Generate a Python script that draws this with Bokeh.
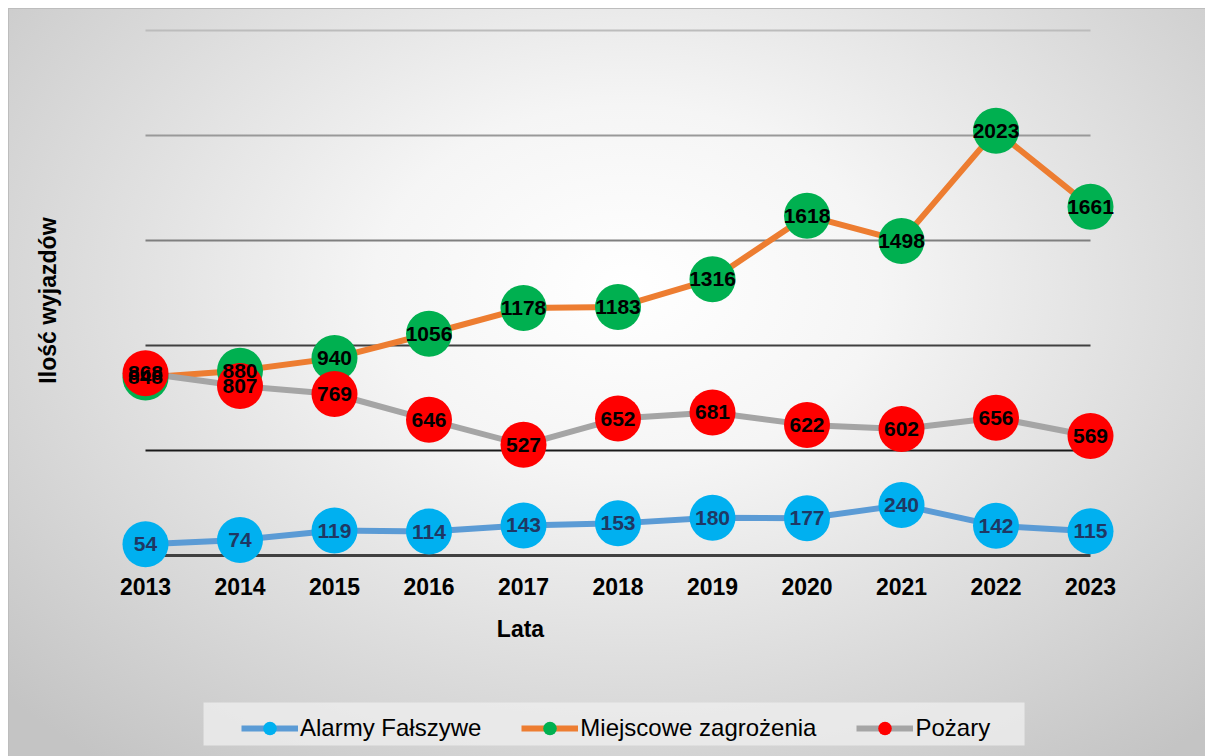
import math
from bokeh.plotting import figure
from bokeh.models import Legend, LegendItem, BoxAnnotation, ColumnDataSource
from bokeh.core.properties import value
from bokeh.embed import file_html
from bokeh.resources import INLINE

# ---- data ----
years = [2013, 2014, 2015, 2016, 2017, 2018, 2019, 2020, 2021, 2022, 2023]
year_labels = ["2013", "2014", "2015", "2016", "2017", "2018", "2019", "2020", "2021", "2022", "2023"]
alarmy = [54, 74, 119, 114, 143, 153, 180, 177, 240, 142, 115]
miejscowe = [848, 880, 940, 1056, 1178, 1183, 1316, 1618, 1498, 2023, 1661]
pozary = [868, 807, 769, 646, 527, 652, 681, 622, 602, 656, 569]
series_names = ["Alarmy Fałszywe", "Miejscowe zagrożenia", "Pożary"]
grid_values = [0, 500, 1000, 1500, 2000, 2500]
x_title = "Lata"
y_title = "Ilość wyjazdów"

# ---- styles ----
FONT = value("Liberation Sans")
line_colors = ["#5b9bd5", "#ed7d31", "#a5a5a5"]
marker_colors = ["#00b0f0", "#00b050", "#ff0000"]
label_colors = ["#1f3864", "#000000", "#000000"]
grid_colors = ["#404040", "#1a1a1a", "#404040", "#7f7f7f", "#999999", "#bcbcbc"]
grid_widths = [3, 2, 2, 2, 2, 2]

# frame covers the whole figure; 94.5 px per year, 0.21 px per unit
p = figure(width=1205, height=756,
           x_range=(2011.4656, 2024.2169), y_range=(-957.14, 2642.86),
           output_backend="svg", toolbar_location=None,
           x_axis_location=None, y_axis_location=None,
           min_border=0)
p.border_fill_color = None
p.background_fill_color = None
p.outline_line_color = None
p.grid.visible = False
p.styles = {
    "background": "radial-gradient(ellipse 70% 80% at 52% 38%, #ffffff 0%, #f5f5f5 30%, #c4c4c4 100%)",
    "box-shadow": "inset 8px 8px 0 0 #ffffff, inset 9px 9px 0 0 #bdbdbd",
}

# gridlines (only across the category span)
for g, c, w in zip(grid_values, grid_colors, grid_widths):
    p.segment(x0=years[0], x1=years[-1], y0=g, y1=g, line_color=c, line_width=w)

series = [alarmy, miejscowe, pozary]
line_rs = []
for vals, lc in zip(series, line_colors):
    line_rs.append(p.line(years, vals, line_color=lc, line_width=6, line_join="round"))
marker_rs = []
for vals, mc in zip(series, marker_colors):
    marker_rs.append(p.scatter(years, vals, size=46, fill_color=mc, line_color=None))
for vals, tc in zip(series, label_colors):
    src = ColumnDataSource(dict(x=years, y=vals, t=[str(v) for v in vals]))
    p.text(x="x", y="y", text="t", source=src, text_align="center", text_baseline="middle",
           text_font=FONT, text_font_style="bold", text_font_size="21px", text_color=tc)

# x tick labels
p.text(x=years, y=[-147.6] * len(years), text=year_labels, text_align="center",
       text_baseline="middle", text_font=FONT, text_font_style="bold",
       text_font_size="23px", text_color="#000000")

# axis titles
p.text(x=[2016.968], y=[-352], text=[x_title], text_align="center", text_baseline="middle",
       text_font=FONT, text_font_style="bold", text_font_size="23px", text_color="#000000")
p.text(x=[2011.963], y=[1214], text=[y_title], angle=math.pi / 2, text_align="center",
       text_baseline="middle", text_font=FONT, text_font_style="bold",
       text_font_size="23px", text_color="#000000")

# legend box
p.add_layout(BoxAnnotation(left=2013.614, right=2022.302, top=-700, bottom=-905,
                           fill_color="#eeeeee", fill_alpha=0.8, line_color=None))

legend = Legend(items=[LegendItem(label=n, renderers=[l, m])
                       for n, l, m in zip(series_names, line_rs, marker_rs)],
                orientation="horizontal", location=(241, 11),
                glyph_width=57, glyph_height=34, label_standoff=2, spacing=40, padding=5,
                label_text_font="Liberation Sans", label_text_font_size="24px",
                label_text_color="#000000", background_fill_alpha=0, border_line_color=None)
p.add_layout(legend, "center")

open("out.html", "w").write(file_html(p, INLINE))
